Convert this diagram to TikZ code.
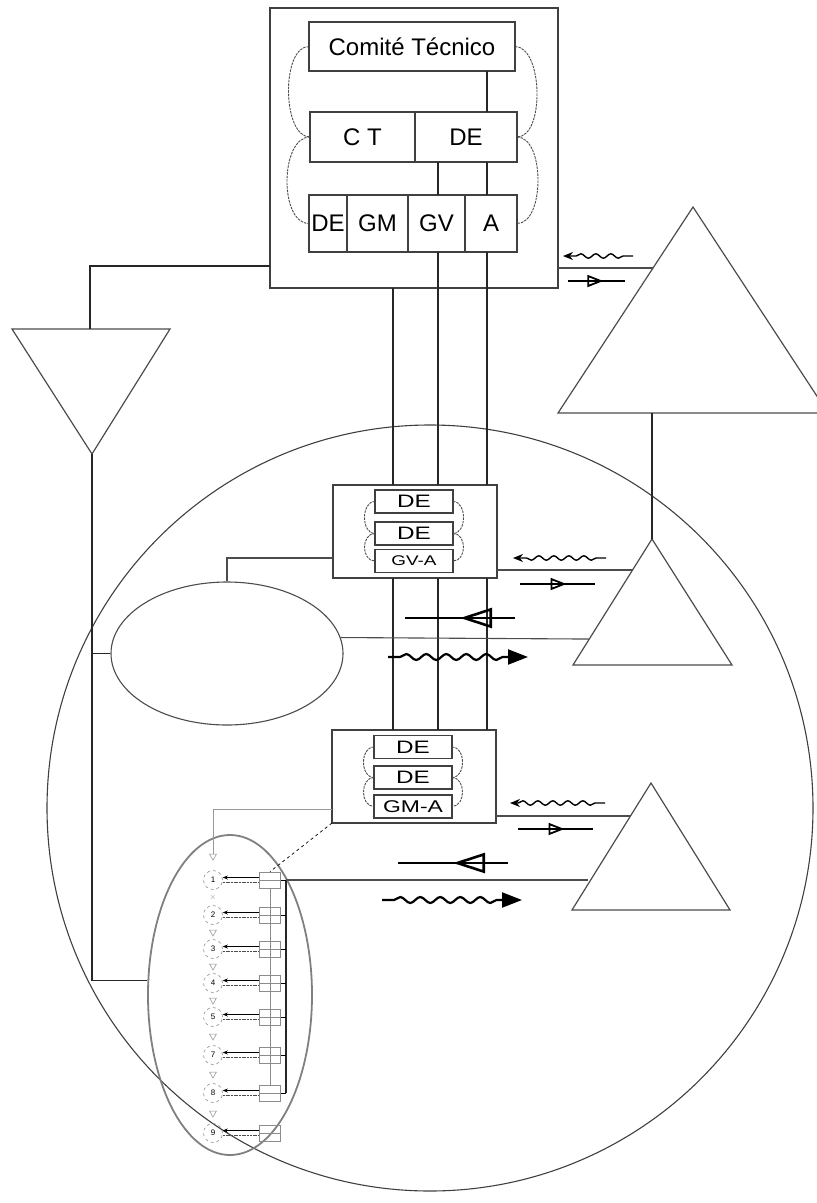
\documentclass[tikz,border=0pt]{standalone}
\usepackage{fontspec}
\setmainfont{Liberation Sans}
\usetikzlibrary{positioning, shapes.geometric, arrows.meta, calc,
                decorations.pathmorphing, decorations.markings}
\newcommand{\wide}[1]{\scalebox{1.35}[1]{#1}}
\tikzset{
  frame/.style  = {draw=black!75, line width=1.3pt, rectangle,
                   inner sep=0pt, outer sep=0pt},
  cell/.style   = {draw=black!75, line width=1.3pt, rectangle,
                   inner sep=0pt, outer sep=0pt,
                   font=\fontsize{24}{24}\selectfont},
  inbox/.style  = {draw=black!75, line width=1.1pt, rectangle,
                   inner sep=0pt, outer sep=0pt,
                   minimum width=78pt, minimum height=23pt,
                   font=\fontsize{18}{18}\selectfont},
  link/.style   = {draw=black!85, line width=1.6pt},
  thinlink/.style = {draw=black!70, line width=1.1pt},
  loop/.style   = {draw=black!70, line width=0.9pt,
                   dash pattern=on 2.5pt off 1pt},
  tri/.style    = {draw=black!70, line width=1.2pt},
  wavy/.style   = {line width=1.4pt, -{Stealth[length=10pt,width=8pt]},
                   decorate, decoration={snake, amplitude=2.2pt,
                   segment length=15pt, pre length=10pt, post length=8pt}},
  hollow/.style = {line width=1.5pt, postaction={decorate,
                   decoration={markings, mark=at position 0.62 with
                   {\arrow{Triangle[open, length=16pt, width=12pt, line width=1.8pt]}}}}},
  bigwavy/.style = {line width=2.2pt, -{Triangle[length=20pt,width=15pt]},
                   decorate, decoration={snake, amplitude=3pt,
                   segment length=20pt, pre length=12pt, post length=20pt}},
  bighollow/.style = {line width=2.6pt, postaction={decorate,
                   decoration={markings, mark=at position 0.5 with
                   {\arrow{Triangle[open, length=32pt, width=20pt, line width=2.6pt]}}}}},
  stepnode/.style = {circle, draw=black!45, dashed, line width=0.6pt,
                   minimum size=19pt, inner sep=0pt,
                   font=\fontsize{8}{8}\selectfont},
  smallbox/.style = {draw=black!45, line width=0.7pt, rectangle,
                   minimum width=21pt, minimum height=16pt, inner sep=0pt,
                   path picture={\draw[black!45] (path picture bounding box.west)
                   -- (path picture bounding box.east);}},
  gapmark/.style = {regular polygon, regular polygon sides=3,
                   shape border rotate=180, draw=black!45, line width=0.5pt,
                   minimum size=8pt, inner sep=0pt},
}

\begin{document}
\begin{tikzpicture}[x=1pt, y=-1pt]
\useasboundingbox (0,0) rectangle (817,1203);

% ------------------------------------------------------------
%  outer circle (drawn first, everything sits on top)
% ------------------------------------------------------------
\node[circle, draw=black!75, line width=1.1pt, minimum size=766pt,
      inner sep=0pt] (world) at (430,808) {};

% ============================================================
%  TOP: Comite Tecnico frame
% ============================================================
\node[frame, minimum width=288pt, minimum height=280pt] (top) at (414,148) {};

\node[cell, minimum width=206pt, minimum height=49pt] (cmt) at (412,46.5)
  {Comité Técnico};

\node[cell, minimum width=105pt, minimum height=50pt] (ct) at (362.5,137) {C T};
\node[cell, minimum width=102pt, minimum height=50pt, right=0pt of ct] (ctde) {DE};

\node[cell, minimum width=38pt, minimum height=57pt] (de) at (328,223.5) {DE};
\node[cell, minimum width=61pt, minimum height=57pt, right=0pt of de] (gm) {GM};
\node[cell, minimum width=57pt, minimum height=57pt, right=0pt of gm] (gv) {GV};
\node[cell, minimum width=52pt, minimum height=57pt, right=0pt of gv] (a) {A};

% dashed loops round the rows
\draw[loop] (cmt.west) .. controls +(-28,0) and +(-28,0) .. (ct.west);
\draw[loop] (ct.west)  .. controls +(-30,0) and +(-30,0) .. (de.west);
\draw[loop] (cmt.east) .. controls +(28,0) and +(28,0) .. (ctde.east);
\draw[loop] (ctde.east) .. controls +(28,0) and +(28,0) .. (a.east);

% columns of the three vertical links
\coordinate (colM) at (393,0);
\coordinate (colV) at (438,0);
\coordinate (colA) at (487,0);

\draw[link] (cmt.south -| colA)  -- (ctde.north -| colA);
\draw[link] (ctde.south -| colV) -- (gv.north -| colV);
\draw[link] (ctde.south -| colA) -- (a.north -| colA);

% ============================================================
%  MIDDLE boxes: GV-A and GM-A
% ============================================================
\node[frame, minimum width=164pt, minimum height=93pt] (box1) at (415,531.5) {};
\node[inbox] (b1de1) at (414,501.5) {\wide{DE}};
\node[inbox] (b1de2) at (414,533.5) {\wide{DE}};
\node[inbox, font=\fontsize{14}{14}\selectfont] (b1gva) at (414,561) {\wide{GV-A}};
\draw[loop] (b1de1.west) .. controls +(-14,0) and +(-14,0) .. (b1de2.west);
\draw[loop] (b1de2.west) .. controls +(-14,0) and +(-14,0) .. (b1gva.west);
\draw[loop] (b1de1.east) .. controls +(14,0) and +(14,0) .. (b1de2.east);
\draw[loop] (b1de2.east) .. controls +(14,0) and +(14,0) .. (b1gva.east);

\node[frame, minimum width=164pt, minimum height=93pt] (box2) at (414,776.5) {};
\node[inbox] (b2de1) at (413,747) {\wide{DE}};
\node[inbox] (b2de2) at (413,777.5) {\wide{DE}};
\node[inbox, font=\fontsize{17}{17}\selectfont] (b2gma) at (413,806.5) {\wide{GM-A}};
\draw[loop] (b2de1.west) .. controls +(-14,0) and +(-14,0) .. (b2de2.west);
\draw[loop] (b2de2.west) .. controls +(-14,0) and +(-14,0) .. (b2gma.west);
\draw[loop] (b2de1.east) .. controls +(14,0) and +(14,0) .. (b2de2.east);
\draw[loop] (b2de2.east) .. controls +(14,0) and +(14,0) .. (b2gma.east);

\draw[link] (top.south -| colM) -- (box1.north -| colM);
\draw[link] (gv.south -| colV)  -- (box1.north -| colV);
\draw[link] (a.south -| colA)   -- (box1.north -| colA);
\foreach \c in {colM, colV, colA}
  \draw[link] (box1.south -| \c) -- (box2.north -| \c);

% ============================================================
%  RIGHT: triangles
% ============================================================
\coordinate (t1a) at (693,207);
\coordinate (t1l) at (558,413);
\coordinate (t1r) at (828,413);
\draw[tri] (t1a) -- (t1l) -- (t1r) -- cycle;

\coordinate (t2a) at (652,539);
\coordinate (t2l) at (573,665);
\coordinate (t2r) at (732,665);
\draw[tri] (t2a) -- (t2l) -- (t2r) -- cycle;

\coordinate (t3a) at (651,783);
\coordinate (t3l) at (572,910);
\coordinate (t3r) at (730,910);
\draw[tri] (t3a) -- (t3l) -- (t3r) -- cycle;

\draw[link] (t2a) -- (t2a |- t1l);

% feeds into the triangles
\coordinate (h1) at ($(t1a)!0.296!(t1l)$);
\coordinate (h2) at ($(t2a)!0.246!(t2l)$);
\coordinate (h3) at ($(t3a)!0.26!(t3l)$);
\draw[thinlink] (h1 -| top.east)  -- (h1);
\draw[thinlink] (h2 -| box1.east) -- (h2);
\draw[thinlink] (h3 -| box2.east) -- (h3);

% small arrows beside the feeds
\draw[wavy]   (633,256) -- (563,256);
\draw[hollow] (568,281) -- (625,281);
\draw[wavy]   (606,558) -- (513,558);
\draw[hollow] (520,584) -- (595,584);
\draw[wavy]   (605,803) -- (510,803);
\draw[hollow] (518,829) -- (593,829);

% ============================================================
%  LEFT: triangle, ellipse
% ============================================================
\coordinate (ltop) at (90,329);
\coordinate (ltl) at (12,329);
\coordinate (ltr) at (170,329);
\coordinate (lapex) at (92,454);
\draw[tri] (ltl) -- (ltr) -- (lapex) -- cycle;
\draw[link] (ltop) |- ([yshift=-118pt]top.west);

\node[ellipse, draw=black!70, line width=1.1pt, minimum width=232pt,
      minimum height=143pt, inner sep=0pt] (bell) at (227,653.5) {};
\draw[thinlink] (bell.north) |- ([yshift=-26.5pt]box1.west);
\draw[link] (bell.west) -- (bell.west -| lapex);

\coordinate (h4) at ($(t2a)!0.794!(t2l)$);
\draw[thinlink] (bell.8) -- (h4);

% big arrows across the circle
\draw[bighollow] (515,618) -- (405,618);
\draw[bigwavy]   (388,657) -- (528,657);
\draw[bighollow] (508,863) -- (398,863);
\draw[bigwavy]   (382,900) -- (522,900);

% ============================================================
%  BOTTOM-LEFT: step column inside the small ellipse
% ============================================================
\node[ellipse, draw=black!50, line width=1.8pt, minimum width=164pt,
      minimum height=320pt, inner sep=0pt] (sell) at (230,995) {};
\draw[link] (lapex) |- (sell.170);

\foreach \k/\yy in {1/880, 2/915, 3/949, 4/983, 5/1017, 7/1055, 8/1093, 9/1133} {
  \node[stepnode] (s\k) at (213,\yy) {\k};
  \node[smallbox] (q\k) at (270,\yy) {};
  \draw[black, line width=1.3pt, -{Stealth[length=5pt,width=4pt]}]
    ([yshift=2.5pt]q\k.west) -- ([yshift=2.5pt]s\k.east);
  \draw[black!70, line width=0.9pt, dash pattern=on 2pt off 0.7pt]
    ([yshift=-2.5pt]s\k.east) -- ([yshift=-2.5pt]q\k.west);
}
\node[font=\fontsize{8}{8}\selectfont, text=black!45] (x12) at ($(s1)!0.5!(s2)$) {$\times$};
\foreach \u/\v in {2/3, 3/4, 4/5, 5/7, 7/8, 8/9}
  \node[gapmark] (m\u) at ($(s\u)!0.5!(s\v)$) {};
\node[gapmark] (m0) at ([yshift=14pt]s1.north) {};

\draw[black!45, line width=0.8pt] (q1.south) -- (q8.north);
\coordinate (bar) at (286,0);
\draw[link] (q1.east -| bar) -- (q8.east -| bar);
\foreach \k in {1,2,3,4,5,7,8}
  \draw[black, line width=1pt] (q\k.east) -- (q\k.east -| bar);

\coordinate (h5) at ($(t3a)!0.803!(t3l)$);
\draw[thinlink] (q1.east -| bar) -- (h5 |- q1.east);

\draw[black!40, line width=0.8pt] ([yshift=-32.5pt]box2.west) -| (m0.north);
\draw[black, line width=0.7pt, dashed] (box2.south west) -- (q1.north);

\end{tikzpicture}
\end{document}
